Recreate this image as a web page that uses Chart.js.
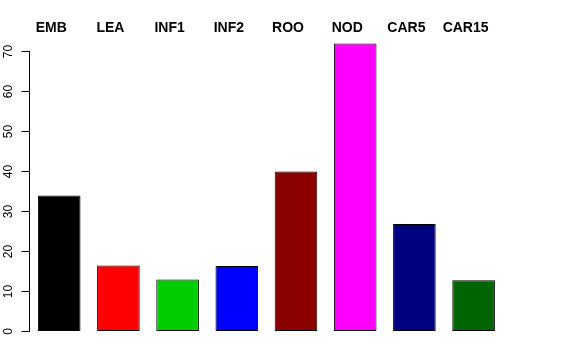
<!DOCTYPE html>
<html lang="en">
<head>
  <meta charset="UTF-8">
  <title>Bar chart</title>
  <script src="https://cdn.jsdelivr.net/npm/chart.js"></script>
  <style>
    body{margin:0;padding:0;background:#fff}
    canvas{display:block}
  </style>
</head>
<body>
<canvas id="barChart" width="576" height="360"></canvas>

<script>
const categories = ['EMB','LEA','INF1','INF2','ROO','NOD','CAR5','CAR15'];
const values     = [34, 16.5, 13, 16.4, 40, 72, 26.9, 12.8];
const barColors  = ['#000000','#FF0000','#00CD00','#0000FF','#8B0000','#FF00FF','#000080','#006400'];
const yTicks     = [0,10,20,30,40,50,60,70];

const FONT = "'Liberation Sans', Arial, Helvetica, sans-serif";

new Chart(document.getElementById('barChart'),{
  type:'bar',
  data:{
    labels:categories,
    datasets:[{
      data:values,
      backgroundColor:barColors,
      borderColor:'#000',
      borderWidth:1,
      borderSkipped:false,
      barPercentage:0.72,
      categoryPercentage:1,
      clip:false
    }]
  },
  options:{
    responsive:false,
    animation:false,
    layout:{padding:{left:0,right:72.8,top:0,bottom:28.5}},
    plugins:{legend:{display:false},tooltip:{enabled:false}},
    scales:{
      x:{
        position:'top',
        grid:{display:false,drawTicks:false,tickLength:0},
        border:{display:false},
        ticks:{
          color:'#000',
          padding:15,
          labelOffset:-8,
          maxRotation:0,
          font:{family:FONT,size:14,weight:'bold'}
        },
        afterFit:s=>{ s.height=51.5; }
      },
      y:{
        min:0,max:70,
        afterBuildTicks:s=>{ s.ticks=yTicks.map(v=>({value:v})); },
        grid:{drawOnChartArea:false,tickLength:8,color:'#000'},
        border:{display:true,color:'#000'},
        ticks:{
          color:'#000',
          padding:6,
          minRotation:90,
          maxRotation:90,
          crossAlign:'center',
          font:{family:FONT,size:12}
        },
        afterFit:s=>{ s.width=29.6; }
      }
    }
  }
});
</script>
</body>
</html>
